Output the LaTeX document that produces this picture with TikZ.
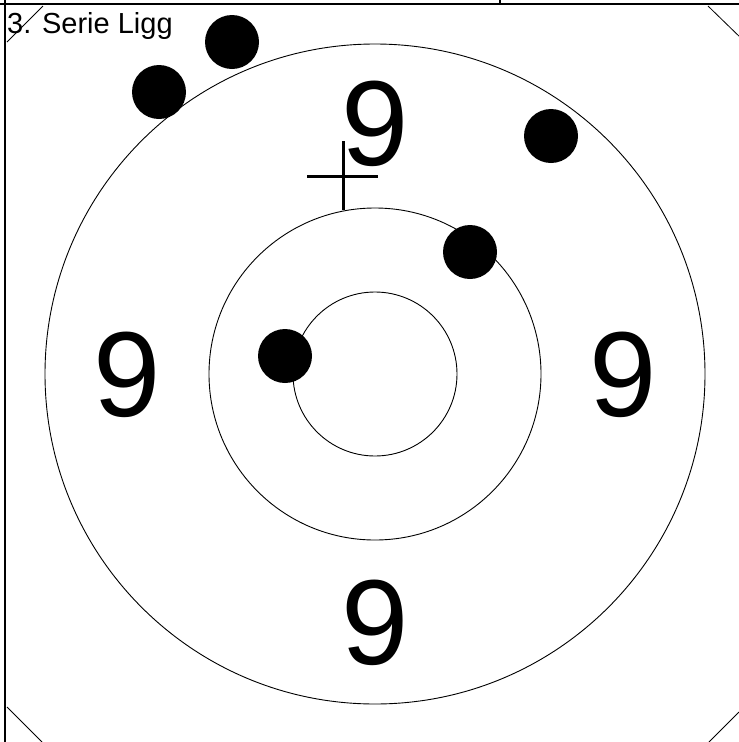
\documentclass[tikz,border=0pt]{standalone}
\usepackage{fontspec}
\setmainfont{Liberation Sans}
\usepackage{tikz}
\usetikzlibrary{positioning}
\tikzset{
  ring/.style      = {line width=0.9pt},
  frame line/.style= {line width=1.6pt},
  corner/.style    = {line width=0.8pt},
  shot/.style      = {circle, fill=black, inner sep=0pt, minimum size=54pt},
  ringlabel/.style = {inner sep=0pt, font=\fontsize{121}{121}\selectfont},
  aim/.style       = {line width=3pt},
}

\begin{document}
\begin{tikzpicture}[
    x=1pt, y=-1pt,
    header/.style={inner sep=0pt, anchor=base west, font=\fontsize{29}{29}\selectfont},
  ]
  \useasboundingbox (0,0) rectangle (739,742);

  % ---- frame ----------------------------------------------------------------
  \draw[frame line] (0,4) -- (739,4);
  \draw[frame line] (500,0) -- (500,4);
  \draw[frame line] (5,0) -- (5,742);
  \node[header] (title) at (7,33) {3. Serie Ligg};

  % ---- corner marks -----------------------------------------------------------
  \draw[corner] (7,42) -- (43,6);
  \draw[corner] (708,6) -- (744,41);
  \draw[corner] (7,707) -- (42,742);
  \draw[corner] (739,712) -- (709,742);

  % ---- rings ------------------------------------------------------------------
  \coordinate (centre) at (375,374);
  \draw[ring] (centre) circle[radius=330];
  \draw[ring] (centre) circle[radius=166];
  \draw[ring] (centre) circle[radius=82];

  % ---- ring numbers -----------------------------------------------------------
  \node[ringlabel] (nine top)    at (375,124) {9};
  \node[ringlabel] (nine left)   at (127,375) {9};
  \node[ringlabel] (nine right)  at (623,375) {9};
  \node[ringlabel] (nine bottom) at (375,623) {9};

  % ---- aiming mark ------------------------------------------------------------
  \draw[aim] (343,141) -- (343,210);
  \draw[aim] (307,176) -- (378,176);

  % ---- hits -------------------------------------------------------------------
  \foreach \x/\y [count=\i] in {285/356, 470/252, 551/136, 159/92, 232/42} {
    \node[shot] (hit\i) at (\x,\y) {};
  }
\end{tikzpicture}
\end{document}
